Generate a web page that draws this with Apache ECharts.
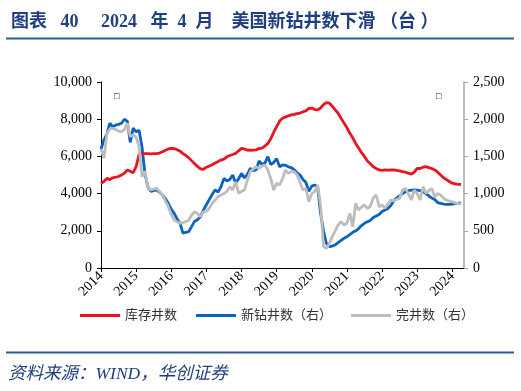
<!DOCTYPE html>
<html>
<head>
<meta charset="utf-8">
<script src="https://cdn.jsdelivr.net/npm/echarts@6/dist/echarts.min.js"></script>
<style>html,body{margin:0;padding:0;background:#fff;}#c{width:521px;height:391px;}</style>
</head>
<body>
<div id="c"></div>
<script>
// Year tick labels (x axis ticks every 12 months, starting Jan 2014)
var years = ['2014','2015','2016','2017','2018','2019','2020','2021','2022','2023','2024'];
// Monthly data Jan 2014 – Apr 2024
var inventory = [ // 库存井数 (left axis)
  4550,4650,4820,4750,4850,4880,4920,5000,5100,5270,5200,5120,
  5450,6100,6160,6150,6150,6140,6150,6150,6180,6250,6330,6400,
  6430,6420,6360,6280,6150,6050,5920,5760,5600,5450,5330,5300,
  5420,5480,5550,5650,5720,5800,5850,5980,6050,6100,6160,6300,
  6430,6400,6340,6330,6340,6350,6420,6450,6560,6700,6950,7300,
  7600,7900,8050,8120,8180,8230,8260,8300,8330,8400,8450,8580,
  8600,8520,8500,8600,8780,8890,8870,8700,8500,8320,8050,7800,
  7550,7240,7000,6700,6450,6200,6000,5750,5600,5450,5350,5270,
  5250,5270,5260,5270,5270,5250,5220,5180,5150,5100,5050,5150,
  5360,5350,5420,5450,5400,5350,5270,5150,5000,4850,4750,4650,
  4560,4520,4500,4500
];
var drilled = [ // 新钻井数（右）
  1600,1720,1800,1945,1900,1920,1930,1945,2000,1970,1690,1880,
  1830,1850,1630,1270,1093,1030,1040,1050,1020,980,930,870,
  790,735,660,600,470,480,490,560,630,650,690,780,
  850,920,990,1050,1020,1093,1205,1170,1190,1250,1138,1200,
  1272,1210,1260,1340,1310,1320,1440,1390,1410,1496,1390,1420,
  1470,1360,1385,1380,1360,1350,1320,1280,1250,1190,1150,1030,
  1100,1116,1093,735,500,330,287,295,310,340,370,399,
  420,450,480,500,530,570,600,620,640,680,700,720,
  760,780,800,840,900,940,970,1000,1020,1040,1048,1050,
  1048,1040,1026,1000,970,940,920,880,870,860,855,855,
  860,865,870,870
];
var completed = [ // 完井数（右）
  1600,1474,1800,1870,1877,1860,1840,1832,1860,1945,1765,1790,
  1760,1630,1227,1300,1093,1048,1060,1070,1030,981,900,824,
  720,645,620,600,610,623,645,712,757,730,690,757,
  760,802,870,914,960,981,1000,1030,1093,1048,1160,1004,
  1030,1048,1180,1295,1330,1362,1340,1370,1384,1317,1200,1048,
  1138,1116,1200,1317,1272,1295,1295,1250,1150,1048,1070,891,
  1000,1026,1116,847,287,265,330,421,500,578,623,578,
  600,735,555,870,780,820,847,802,830,940,981,824,
  847,802,860,914,900,920,936,1048,1070,1000,914,1048,
  1000,914,1093,1004,1040,1070,958,1000,981,940,914,900,
  891,875,865,860
];
var seriesNames = ['库存井数','新钻井数（右）','完井数（右）'];

function pairs(arr){ return arr.map(function(v,i){ return [i, v]; }); }

var serif = '"Liberation Serif","Noto Sans CJK SC"';
var navy = '#1F3F7F';

var chart = echarts.init(document.getElementById('c'), null, {renderer:'canvas'});
chart.setOption({
  animation: false,
  backgroundColor: '#fff',
  title: {
    text: '图表   40     2024   年  4  月    美国新钻井数下滑 （台 ）',
    left: 6, top: 8,
    textStyle: {fontFamily: serif, fontSize: 18, fontWeight: 'bold', color: navy}
  },
  graphic: [
    {type:'line', shape:{x1:6,y1:38.5,x2:514,y2:38.5}, style:{stroke:'#2E5C9A', lineWidth:2}},
    {type:'line', shape:{x1:6,y1:352.5,x2:514,y2:352.5}, style:{stroke:'#2E5C9A', lineWidth:2}},
    {type:'text', left: 8, top: 366, style:{text:'资料来源：WIND，华创证券', fontFamily: serif, fontStyle:'italic', fontSize: 17.5, fill: navy}},
    {type:'text', left: 114, top: 92, style:{text:'□', fontSize: 9, fill:'#000'}},
    {type:'text', left: 436, top: 92, style:{text:'□', fontSize: 9, fill:'#000'}}
  ],
  legend: {
    data: seriesNames,
    left: 75, top: 304,
    icon: 'rect',
    itemWidth: 40, itemHeight: 3,
    itemGap: 19,
    textStyle: {fontFamily: serif, fontSize: 13, color: '#333'}
  },
  grid: {left: 101, right: 57, top: 82, bottom: 123, containLabel: false},
  xAxis: {
    type: 'value', min: 0, max: 124, interval: 12,
    axisLine: {show: true, lineStyle: {color: '#000', width: 1}},
    axisTick: {show: true, length: 4, lineStyle: {color: '#000'}},
    splitLine: {show: false},
    axisLabel: {
      rotate: 45, fontFamily: serif, fontSize: 14, color: '#000', margin: 6,
      showMaxLabel: false,
      formatter: function(v){ var i = Math.round(v/12); return (v % 12 === 0 && years[i]) ? years[i] : ''; }
    }
  },
  yAxis: [
    {
      type: 'value', min: 0, max: 10000, interval: 2000, position: 'left',
      axisLine: {show: true, lineStyle: {color: '#000', width: 1}},
      axisTick: {show: true, length: 4, lineStyle: {color: '#000'}},
      splitLine: {show: false},
      axisLabel: {fontFamily: serif, fontSize: 14, color: '#000', margin: 9,
        formatter: function(v){ return v.toLocaleString('en-US'); }}
    },
    {
      type: 'value', min: 0, max: 2500, interval: 500, position: 'right',
      axisLine: {show: true, lineStyle: {color: '#A6A6A6', width: 1.5}},
      axisTick: {show: true, length: 4, lineStyle: {color: '#A6A6A6'}},
      splitLine: {show: false},
      axisLabel: {fontFamily: serif, fontSize: 14, color: '#000', margin: 9,
        formatter: function(v){ return v.toLocaleString('en-US'); }}
    }
  ],
  series: [
    {name: seriesNames[0], type:'line', yAxisIndex:0, data: pairs(inventory), showSymbol:false,
      lineStyle:{color:'#E8141E', width:2.8}, itemStyle:{color:'#E8141E'}, z:3},
    {name: seriesNames[1], type:'line', yAxisIndex:1, data: pairs(drilled), showSymbol:false,
      lineStyle:{color:'#0B63C1', width:2.8}, itemStyle:{color:'#0B63C1'}, z:2},
    {name: seriesNames[2], type:'line', yAxisIndex:1, data: pairs(completed), showSymbol:false,
      lineStyle:{color:'#BDBDBD', width:2.8}, itemStyle:{color:'#BDBDBD'}, z:4}
  ]
});
</script>
</body>
</html>
